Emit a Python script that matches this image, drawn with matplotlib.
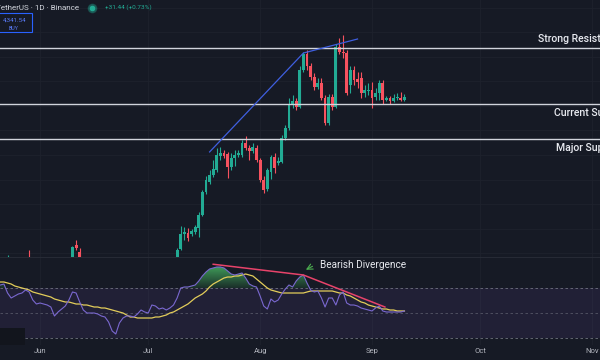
import numpy as np
import pandas as pd
import matplotlib
matplotlib.use("Agg")
import matplotlib.pyplot as plt
import matplotlib.dates as mdates
from matplotlib.path import Path
from matplotlib.patches import PathPatch, Rectangle
from matplotlib.lines import Line2D
from matplotlib.colors import LinearSegmentedColormap

plt.rcParams['font.family'] = ['Roboto', 'DejaVu Sans']

# ---- data (ETH/USDT daily) ----
candle_start = '2025-07-09'
opens = [2699, 2791, 2944, 2954, 2944, 2964, 3005, 3138, 3373, 3475,
         3546, 3597, 3740, 3770, 3760, 3628, 3719, 3750, 3750, 3872,
         3821, 3791, 3821, 3699, 3495, 3403, 3577, 3730, 3668, 3679,
         3923, 4025, 4260, 4301, 4240, 4617, 4780, 4658, 4546, 4444,
         4484, 4331, 4076, 4341, 4240, 4852, 4800, 4790, 4464, 4617,
         4525, 4535, 4382, 4403, 4413, 4341, 4382, 4484, 4311, 4331,
         4301, 4331, 4331, 4310]
highs = [2801, 3026, 3015, 3005, 2995, 3036, 3169, 3393, 3536, 3597,
         3699, 3821, 3832, 3801, 3781, 3770, 3801, 3801, 3903, 3944,
         3852, 3872, 3852, 3719, 3536, 3617, 3750, 3770, 3730, 3954,
         4056, 4331, 4362, 4331, 4658, 4800, 4821, 4688, 4586, 4535,
         4535, 4362, 4372, 4372, 4882, 4943, 4974, 4821, 4658, 4658,
         4597, 4597, 4464, 4484, 4495, 4433, 4515, 4515, 4352, 4352,
         4372, 4382, 4393, 4372]
lows = [2679, 2781, 2883, 2873, 2924, 2944, 2913, 3128, 3352, 3454,
        3526, 3577, 3699, 3719, 3515, 3597, 3638, 3730, 3730, 3801,
        3699, 3770, 3679, 3475, 3362, 3383, 3505, 3566, 3648, 3668,
        3903, 4005, 4229, 4209, 4229, 4597, 4617, 4515, 4413, 4423,
        4311, 4056, 4056, 4209, 4229, 4780, 4739, 4362, 4382, 4464,
        4433, 4331, 4341, 4362, 4229, 4311, 4311, 4270, 4301, 4270,
        4291, 4311, 4300, 4300]
closes = [2781, 2944, 2964, 2903, 2975, 3015, 3138, 3373, 3495, 3546,
          3607, 3750, 3770, 3740, 3628, 3719, 3750, 3770, 3872, 3821,
          3791, 3832, 3699, 3495, 3393, 3597, 3730, 3617, 3689, 3923,
          4025, 4270, 4301, 4240, 4617, 4780, 4658, 4546, 4444, 4484,
          4331, 4076, 4341, 4240, 4852, 4800, 4790, 4382, 4617, 4515,
          4495, 4382, 4413, 4413, 4331, 4382, 4484, 4311, 4331, 4301,
          4331, 4335, 4310, 4341.54]

# earlier candles, only their tops poke into the price pane
early_dates = ['2025-05-23', '2025-05-29', '2025-06-10', '2025-06-11', '2025-06-12']
early_open = [2620, 2700, 2600, 2832, 2761]
early_high = [2730, 2781, 2822, 2883, 2801]
early_low = [2600, 2600, 2590, 2781, 2600]
early_close = [2640, 2650, 2812, 2801, 2650]

rsi_start = '2025-05-21'
rsi = [72.4, 73.2, 66.0, 62.0, 63.6, 65.2, 66.0, 68.4, 66.8, 60.4,
       57.2, 58.0, 57.2, 56.4, 54.8, 47.6, 50.8, 53.2, 55.6, 60.4,
       66.8, 66.0, 58.8, 52.4, 50.0, 50.0, 50.0, 49.2, 47.6, 46.8,
       42.8, 35.6, 33.2, 42.0, 46.0, 47.6, 47.6, 46.8, 49.2, 52.4,
       50.8, 50.0, 56.4, 55.6, 53.2, 54.0, 52.4, 54.0, 56.4, 62.0,
       70.0, 70.8, 70.8, 71.6, 72.4, 75.6, 79.6, 82.8, 85.2, 86.0,
       86.8, 86.8, 86.0, 83.6, 81.2, 80.4, 81.2, 82.0, 78.0, 73.2,
       71.6, 70.8, 63.6, 55.6, 53.2, 61.2, 58.8, 60.4, 65.2, 69.2,
       72.4, 70.8, 75.6, 78.8, 80.4, 74.0, 68.4, 66.8, 67.6, 62.0,
       54.8, 62.0, 62.0, 56.4, 64.4, 66.8, 58.0, 56.4, 56.4, 55.6,
       54.0, 53.2, 52.4, 51.6, 54.0, 55.6, 51.6, 50.8, 50.8, 50.8,
       50.8, 50.8, 51.6]
rsi_ma = [74.8, 74.8, 74.0, 73.2, 71.6, 70.8, 70.0, 69.2, 68.4, 66.8,
          66.0, 65.2, 64.4, 63.6, 62.8, 61.2, 60.4, 59.6, 58.8, 58.8,
          58.0, 57.2, 57.2, 56.4, 56.4, 55.6, 54.8, 54.8, 54.0, 54.0,
          53.2, 52.4, 51.6, 50.8, 50.0, 48.4, 46.8, 46.8, 46.0, 46.0,
          46.0, 46.0, 46.0, 46.8, 46.8, 47.6, 48.4, 50.0, 50.8, 52.4,
          54.0, 55.6, 57.2, 59.6, 62.0, 63.6, 65.2, 67.6, 70.8, 73.2,
          74.8, 76.4, 78.0, 78.8, 78.8, 79.6, 79.6, 80.4, 81.2, 80.4,
          79.6, 77.2, 74.8, 72.4, 70.0, 68.4, 67.6, 66.8, 66.0, 66.0,
          66.0, 66.0, 66.0, 66.0, 66.0, 66.8, 67.6, 67.6, 67.6, 67.6,
          67.6, 67.6, 67.6, 66.8, 66.0, 66.0, 64.4, 63.6, 62.0, 60.4,
          58.8, 58.0, 56.4, 55.6, 54.8, 54.0, 53.2, 53.2, 52.4, 52.4,
          51.6, 51.6, 51.6]

level_names = ['Strong Resistance', 'Current Support', 'Major Support']
level_prices = [4840, 4270, 3915]
level_label_dates = ['2025-10-17 00:00', '2025-10-21 12:00', '2025-10-22 00:00']

trend_dates = ['2025-07-18', '2025-08-13', '2025-08-28']
trend_prices = [3781, 4790, 4933]

div_dates = ['2025-07-19 00:00', '2025-08-13 00:00', '2025-09-04 14:00']
div_rsi = [89.0, 80.4, 54.8]

month_ticks = ['2025-06-01', '2025-07-01', '2025-08-01', '2025-09-01', '2025-10-01', '2025-11-01']
month_labels = ['Jun', 'Jul', 'Aug', 'Sep', 'Oct', 'Nov']

# ---- colours ----
bg = '#161a25'
up = '#22ab94'
down = '#f7525f'
grid_c = '#1e222d'

fig = plt.figure(figsize=(6, 3.6), dpi=100, facecolor=bg)
ax1 = fig.add_axes([0, 103 / 360, 1, 257 / 360], facecolor=bg)
ax2 = fig.add_axes([0, 15 / 360, 1, 88 / 360], facecolor=bg)

x_left = mdates.date2num(pd.Timestamp('2025-06-01')) - 11.09
x_right = mdates.date2num(pd.Timestamp('2025-06-01')) + 155.2
tick_pos = pd.to_datetime(month_ticks)

for ax in (ax1, ax2):
    for s in ax.spines.values():
        s.set_visible(False)
    for t in tick_pos:
        ax.axvline(t, color=grid_c, lw=0.6, zorder=0)

# ---- price pane ----
for p in range(2750, 5350, 250):
    ax1.axhline(p, color=grid_c, lw=0.6, zorder=0)

cd = pd.date_range(candle_start, periods=len(opens), freq='D')
all_dates = list(pd.to_datetime(early_dates)) + list(cd)
o = np.array(early_open + opens, dtype=float)
h = np.array(early_high + highs, dtype=float)
l = np.array(early_low + lows, dtype=float)
c = np.array(early_close + closes, dtype=float)
cols = [up if cc >= oo else down for oo, cc in zip(o, c)]
body_lo = np.minimum(o, c)
body_h = np.maximum(np.abs(c - o), 8)

ax1.vlines(all_dates, l, h, colors=cols, lw=0.8, zorder=3)
ax1.bar(all_dates, body_h, bottom=body_lo, width=0.78, color=cols, zorder=4)

for name, lvl, ld in zip(level_names, level_prices, level_label_dates):
    ax1.axhline(lvl, color='#d1d4dc', lw=1.0, zorder=5)
    above = name.startswith('Strong')
    ax1.annotate(name, (pd.Timestamp(ld), lvl), xytext=(0, 3 if above else -3),
                 textcoords='offset points', ha='left',
                 va='bottom' if above else 'top', fontsize=7.6, color='#e8eaf0',
                 fontweight='medium', annotation_clip=False)

ax1.plot(pd.to_datetime(trend_dates), trend_prices, color='#3f5fe0', lw=0.9, zorder=6)

ax1.set_xlim(x_left, x_right)
ax1.set_ylim(2709.5, 5330.9)
ax1.set_xticks([])
ax1.set_yticks([])

# ---- RSI pane ----
rd = pd.date_range(rsi_start, periods=len(rsi), freq='D')
r = np.array(rsi)
ax2.axhspan(30, 70, color='#7e57c2', alpha=0.11, lw=0, zorder=1)
for lv, a in ((70, 0.9), (50, 0.6), (30, 0.9)):
    ax2.axhline(lv, color='#787b86', lw=0.6, ls=(0, (3, 3)), alpha=a, zorder=2)

fill = ax2.fill_between(rd, r, 70, where=r > 70, interpolate=True, color='none', lw=0)
clip = PathPatch(Path.make_compound_path(*fill.get_paths()), transform=ax2.transData,
                 facecolor='none', edgecolor='none')
ax2.add_patch(clip)
grad = np.linspace(0, 1, 256).reshape(-1, 1)
cmap = LinearSegmentedColormap.from_list('ob', ['#1a2e29', '#42a35c'])
im = ax2.imshow(grad, extent=[x_left, x_right, 70, 88], origin='lower',
                aspect='auto', cmap=cmap, zorder=2)
im.set_clip_path(clip)

ax2.plot(rd, rsi_ma, color='#e3cd5a', lw=0.9, zorder=4)
ax2.plot(rd, r, color='#7a68d0', lw=0.8, zorder=5)
ax2.plot(pd.to_datetime(div_dates), div_rsi, color='#e8436a', lw=1.1, zorder=6)

ax2.annotate('', xy=(pd.Timestamp('2025-08-13'), 83.6),
             xytext=(pd.Timestamp('2025-08-16 05:00'), 88.4),
             arrowprops=dict(arrowstyle='->', color='#4caf50', lw=0.8), zorder=7)
ax2.text(pd.Timestamp('2025-08-17 14:00'), 88.6, 'Bearish Divergence',
         fontsize=7.2, color='#e8eaf0', ha='left', va='center', zorder=7)

ax2.set_xlim(x_left, x_right)
ax2.set_ylim(24.4, 94.8)
ax2.set_yticks([])
ax2.set_xticks(tick_pos)
ax2.set_xticklabels(month_labels)
ax2.tick_params(axis='x', length=0, pad=2.2, labelsize=5.5, labelcolor='#b2b5be')

# pane separator and the dark corner patch
fig.add_artist(Line2D([0, 1], [103 / 360, 103 / 360], transform=fig.transFigure,
                      color='#2a2e39', lw=0.6))
fig.add_artist(Rectangle((0, 15 / 360), 25 / 600, 17 / 360, transform=fig.transFigure,
                         facecolor='#12151d', edgecolor='none'))

# ---- header ----
fig.text(79 / 600, 1 - 8 / 360, 'Ethereum / TetherUS \u00b7 1D \u00b7 Binance',
         ha='right', va='center', fontsize=5.8, color='#d1d4dc')
fig.add_artist(Line2D([92 / 600], [1 - 8 / 360], transform=fig.transFigure,
                      marker='o', ms=6, color=up, alpha=0.3, lw=0))
fig.add_artist(Line2D([92 / 600], [1 - 8 / 360], transform=fig.transFigure,
                      marker='o', ms=3.2, color=up, lw=0))
fig.text(105 / 600, 1 - 7.5 / 360, '+31.44 (+0.73%)', ha='left', va='center',
         fontsize=4.6, color=up)
fig.add_artist(Rectangle((-2 / 600, 1 - 32 / 360), 34 / 600, 19 / 360,
                         transform=fig.transFigure, facecolor=bg,
                         edgecolor='#2962ff', lw=0.8))
fig.text(14.5 / 600, 1 - 20 / 360, '4,341.54', ha='center', va='center',
         fontsize=4.4, color='#5b7cfa')
fig.text(14 / 600, 1 - 28 / 360, 'BUY', ha='center', va='center',
         fontsize=3.8, color='#5b7cfa')

fig.savefig('out.png', dpi=100, facecolor=bg)
